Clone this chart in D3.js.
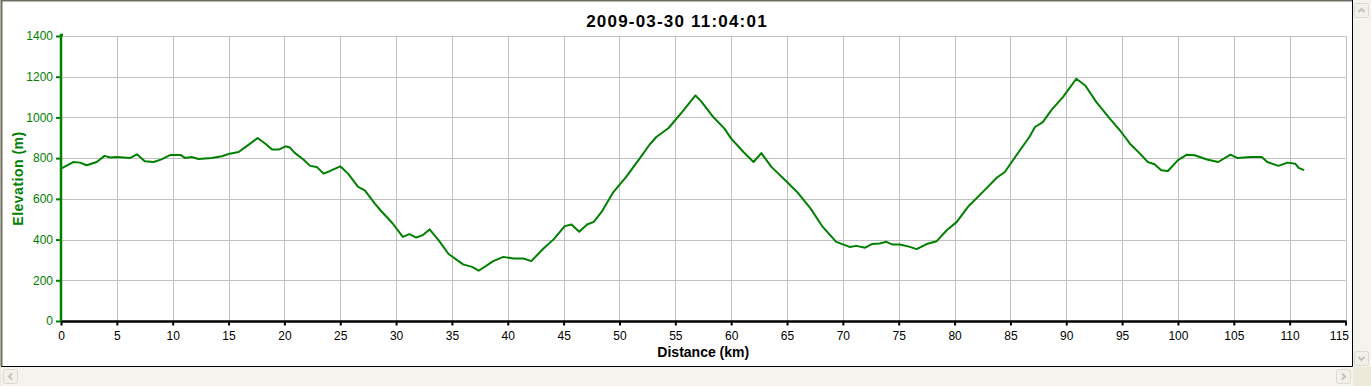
<!DOCTYPE html>
<html>
<head>
<meta charset="utf-8">
<script src="https://cdn.jsdelivr.net/npm/d3@7"></script>
<style>
  body { margin: 0; background: #ece9d8; }
  svg { display: block; font-family: "Liberation Sans", Arial, sans-serif; }
</style>
</head>
<body>
<svg id="chart" width="1371" height="386"></svg>
<script>
// Elevation profile data
const distKm = [0, 1.1, 1.7, 2.3, 3.2, 3.9, 4.4, 5.0, 6.2, 6.8, 7.5, 8.3, 9.0, 9.8, 10.7, 11.1, 11.7, 12.3, 13.5, 14.4,
  15.1, 15.9, 16.6, 17.6, 18.3, 18.9, 19.5, 20.1, 20.5, 20.9, 21.7, 22.3, 22.9, 23.5, 24.1, 25.0, 25.7, 26.6, 27.2, 28.1,
  28.6, 29.7, 30.6, 31.2, 31.8, 32.4, 33.0, 33.8, 34.7, 36.0, 36.8, 37.4, 38.7, 39.6, 40.5, 41.4, 42.1, 43.2, 44.1, 45.1,
  45.7, 46.4, 47.1, 47.7, 48.4, 49.4, 50.6, 51.8, 52.7, 53.3, 54.4, 55.6, 56.8, 57.3, 58.4, 59.4, 60.0, 61.1, 62.0, 62.7,
  63.6, 65.0, 65.9, 67.1, 68.2, 69.4, 70.6, 71.2, 72.0, 72.6, 73.3, 73.9, 74.4, 75.1, 76.0, 76.6, 77.5, 78.4, 79.3, 80.2,
  81.2, 82.6, 83.8, 84.5, 85.6, 86.7, 87.2, 87.9, 88.7, 89.7, 90.9, 91.7, 92.7, 93.9, 94.8, 95.7, 96.6, 97.3, 97.9, 98.5,
  99.1, 100.0, 100.8, 101.5, 102.6, 103.6, 104.7, 105.3, 106.5, 107.5, 108.0, 109.0, 109.8, 110.5, 110.8, 111.3];
const elevM = [749, 781, 778, 765, 781, 811, 803, 806, 801, 819, 785, 781, 794, 816, 816, 801, 806, 796, 801, 809,
  822, 830, 858, 899, 871, 842, 842, 858, 852, 827, 793, 762, 757, 724, 737, 760, 724, 659, 642, 577,
  544, 479, 413, 427, 410, 422, 450, 397, 329, 278, 266, 247, 294, 315, 307, 307, 294, 356, 401, 466,
  474, 438, 474, 487, 536, 629, 708, 798, 867, 904, 948, 1026, 1108, 1080, 1002, 945, 896, 830, 781, 825,
  757, 683, 634, 553, 462, 389, 364, 369, 360, 378, 381, 389, 376, 376, 364, 353, 378, 392, 446, 487,
  561, 638, 705, 732, 819, 904, 953, 977, 1038, 1100, 1190, 1157, 1075, 994, 937, 871, 822, 781, 770, 741,
  737, 790, 817, 814, 793, 781, 817, 801, 806, 806, 781, 762, 778, 773, 752, 741];

const xTicks = d3.range(0, 116, 5);
const yTicks = d3.range(0, 1401, 200);
const titleText = "2009-03-30 11:04:01";
const xTitle = "Distance (km)";
const yTitle = "Elevation (m)";

const svg = d3.select("#chart");
const W = 1371, H = 386;
const panelRight = 1352, panelBottom = 366;
const green = "#008000";

// window frame + white panel
svg.append("rect").attr("x", 0).attr("y", 0).attr("width", W).attr("height", H).attr("fill", "#ece9d8");
svg.append("rect").attr("x", 1).attr("y", 0).attr("width", panelRight - 1).attr("height", panelBottom)
  .attr("fill", "#fff");
svg.append("path").attr("d", `M1.5,${panelBottom} V0.5 H${panelRight}`).attr("fill", "none")
  .attr("stroke", "#716f64").attr("stroke-width", 2);
svg.append("path").attr("d", `M${panelRight + 0.5},0 V${panelBottom + 0.5} H1`).attr("fill", "none")
  .attr("stroke", "#000").attr("stroke-width", 1);

// scrollbars
svg.append("rect").attr("x", panelRight + 1).attr("y", 0).attr("width", W - panelRight - 1).attr("height", panelBottom + 1)
  .attr("fill", "#f4f3ee");
svg.append("rect").attr("x", 1).attr("y", panelBottom + 1).attr("width", panelRight).attr("height", H - panelBottom - 1)
  .attr("fill", "#f4f3ee");
svg.append("rect").attr("x", panelRight + 1).attr("y", panelBottom + 1).attr("width", W - panelRight).attr("height", H - panelBottom)
  .attr("fill", "#ece9d8");
const buttons = [
  { x: 1354, y: 3, dir: "up" },
  { x: 1354, y: 351, dir: "down" },
  { x: 3, y: 369, dir: "left" },
  { x: 1336, y: 369, dir: "right" }
];
buttons.forEach(b => {
  svg.append("rect").attr("x", b.x + 0.5).attr("y", b.y + 0.5).attr("width", 14).attr("height", 14).attr("rx", 2)
    .attr("fill", "#f1f0ea").attr("stroke", "#dcdad0");
  const cx = b.x + 7.5, cy = b.y + 7.5;
  const pts = {
    up: [[cx - 3, cy + 1.5], [cx, cy - 1.5], [cx + 3, cy + 1.5]],
    down: [[cx - 3, cy - 1.5], [cx, cy + 1.5], [cx + 3, cy - 1.5]],
    left: [[cx + 1.5, cy - 3], [cx - 1.5, cy], [cx + 1.5, cy + 3]],
    right: [[cx - 1.5, cy - 3], [cx + 1.5, cy], [cx - 1.5, cy + 3]]
  }[b.dir];
  svg.append("path").attr("d", d3.line()(pts)).attr("fill", "none").attr("stroke", "#c3c1b8").attr("stroke-width", 2);
});

// scales
const x = d3.scaleLinear().domain([0, 115]).range([61, 1345.5]);
const y = d3.scaleLinear().domain([0, 1400]).range([321, 36]);

// grid
const grid = svg.append("g").attr("stroke", "#c0c0c0").attr("stroke-width", 1);
xTicks.filter(d => d > 0).forEach(d => {
  const px = Math.round(x(d)) + 0.5;
  grid.append("line").attr("x1", px).attr("x2", px).attr("y1", y(1400)).attr("y2", y(0));
});
yTicks.filter(d => d > 0).forEach(d => {
  const py = Math.round(y(d)) + 0.5;
  grid.append("line").attr("x1", x(0)).attr("x2", x(115)).attr("y1", py).attr("y2", py);
});

// x axis
const xAxis = svg.append("g").attr("transform", `translate(0,${y(0) + 0.5})`)
  .call(d3.axisBottom(x).tickValues(xTicks).tickSize(4).tickPadding(6).tickFormat(d3.format("d")));
xAxis.select(".domain").attr("stroke", "#000").attr("stroke-width", 2.5).attr("d", `M${x(0)},0H${x(115) + 1}`);
xAxis.selectAll(".tick line").attr("stroke", "#000").attr("stroke-width", 2);
xAxis.selectAll(".tick text").attr("fill", "#000").style("font-size", "12px")
  .style("font-family", "'Liberation Sans', Arial, sans-serif")
  .attr("text-anchor", d => d === 115 ? "end" : "middle")
  .attr("dx", d => d === 115 ? 3 : 0);

// y axis
const yAxis = svg.append("g").attr("transform", `translate(${x(0)},0)`)
  .call(d3.axisLeft(y).tickValues(yTicks).tickSize(5).tickPadding(3).tickFormat(d3.format("d")));
yAxis.select(".domain").attr("stroke", green).attr("stroke-width", 2.5).attr("d", `M0,${y(0)}V${y(1400) - 1}h2`);
yAxis.selectAll(".tick line").attr("stroke", green).attr("stroke-width", 2);
yAxis.selectAll(".tick text").attr("fill", green).style("font-size", "12px")
  .style("font-family", "'Liberation Sans', Arial, sans-serif");

// elevation line
const pts = distKm.map((d, i) => [d, elevM[i]]);
svg.append("path").datum(pts)
  .attr("d", d3.line().x(d => x(d[0])).y(d => y(d[1])))
  .attr("fill", "none").attr("stroke", green).attr("stroke-width", 2).attr("stroke-linejoin", "round");

// titles
svg.append("text").attr("x", 677).attr("y", 27).attr("text-anchor", "middle")
  .style("font-size", "17px").style("font-weight", "bold").style("letter-spacing", "1.2px")
  .text(titleText);
svg.append("text").attr("x", (x(0) + x(115)) / 2).attr("y", 357).attr("text-anchor", "middle")
  .style("font-size", "14px").style("font-weight", "bold")
  .text(xTitle);
svg.append("text").attr("transform", `translate(23,${(y(0) + y(1400)) / 2}) rotate(-90)`).attr("text-anchor", "middle")
  .attr("fill", green).style("font-size", "14px").style("font-weight", "bold").style("letter-spacing", "0.5px")
  .text(yTitle);
</script>
</body>
</html>
